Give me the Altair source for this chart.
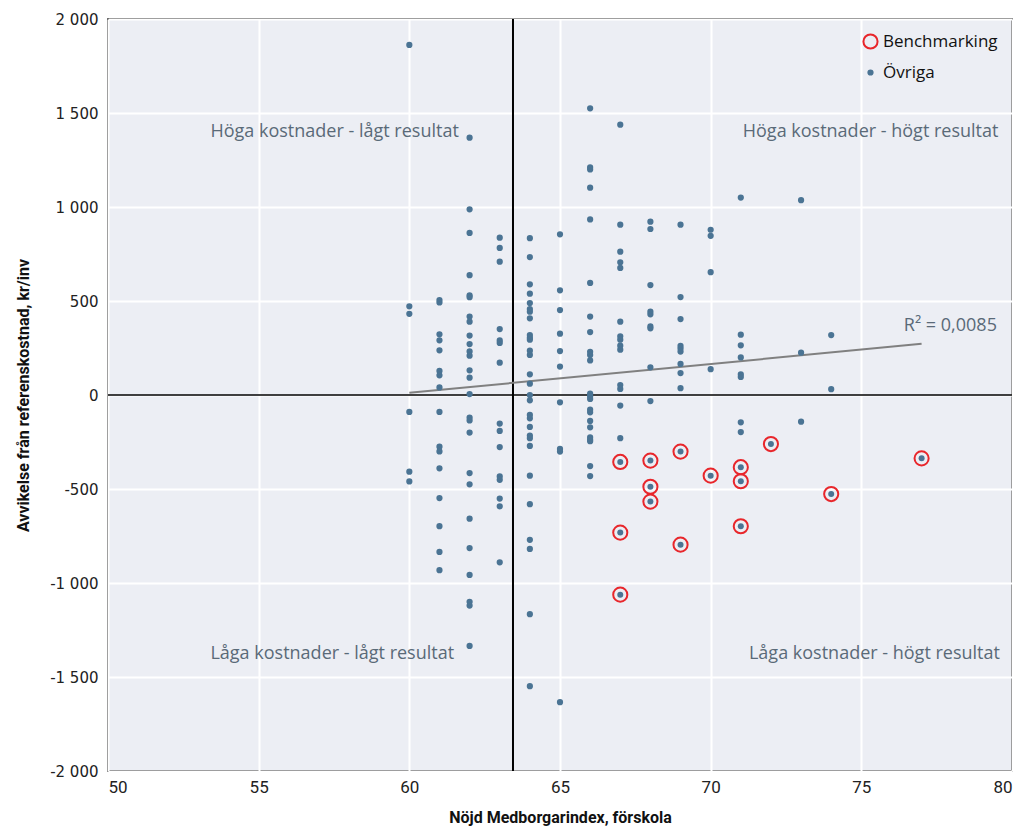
import altair as alt
import pandas as pd

# Övriga: y-values per x (Nöjd Medborgarindex)
col_60 = [1862, 472, 432, -90, -408, -460]
col_61 = [505, 492, 323, 291, 238, 128, 105, 40, -90, -275, -300, -390, -548, -698, -835, -932]
col_62 = [1369, 988, 862, 637, 530, 520, 417, 390, 316, 271, 232, 209, 131, 92, 5, -120, -135,
          -200, -415, -475, -658, -814, -957, -1100, -1120, -1335]
col_63 = [837, 782, 709, 351, 290, 277, 172, -152, -191, -277, -433, -451, -551, -592, -890]
col_64 = [834, 734, 589, 539, 489, 457, 443, 408, 319, 305, 294, 236, 213, 110, 60, 0, -28,
          -106, -124, -170, -216, -230, -271, -429, -581, -770, -819, -1166, -1549]
col_65 = [855, 557, 452, 326, 234, 151, -39, -287, -301, -1634]
col_66 = [1525, 1211, 1200, 1103, 934, 596, 417, 335, 230, 213, 184, 7, -7, -21, -78, -92,
          -138, -172, -225, -238, -246, -378, -431]
col_67 = [1438, 906, 762, 706, 676, 390, 312, 294, 262, 241, 53, 32, -56, -230]
col_68 = [922, 883, 585, 443, 429, 365, 355, 147, -32]
col_69 = [906, 521, 404, 261, 247, 231, 165, 117, 36]
col_70 = [879, 847, 653, 137]
col_71 = [1050, 321, 264, 200, 110, 96, -145, -197]
col_73 = [1036, 225, -142]
col_74 = [319, 31]

# Benchmarking
bench_x = [67, 67, 67, 68, 68, 68, 69, 69, 70, 71, 71, 71, 72, 74, 77]
bench_y = [-356, -732, -1062, -349, -488, -567, -301, -796, -429, -384, -459, -698, -261, -527, -337]

# Trend line (R² = 0,0085)
trend_x = [60, 77]
trend_y = [12, 272]

# Divider lines
divider_x = [63.44]
divider_y = [0]

# Annotations
quad_text = ["Höga kostnader - lågt resultat", "Höga kostnader - högt resultat",
             "Låga kostnader - lågt resultat", "Låga kostnader - högt resultat"]
quad_x = [53.4, 79.55, 53.4, 79.6]
quad_y = [1400, 1400, -1375, -1375]
r2_text = ["R² = 0,0085"]
r2_x = [79.5]
r2_y = [365]

BLUE = "#4b7494"
RED = "#e8262b"
FONT = "Roboto"
TFONT = "Open Sans"

cols = {60: col_60, 61: col_61, 62: col_62, 63: col_63, 64: col_64, 65: col_65, 66: col_66,
        67: col_67, 68: col_68, 69: col_69, 70: col_70, 71: col_71, 73: col_73, 74: col_74}
rows = []
for xv, ys in cols.items():
    for yv in ys:
        rows.append({"x": xv, "y": yv, "group": "Övriga"})
for xv, yv in zip(bench_x, bench_y):
    rows.append({"x": xv, "y": yv, "group": "Benchmarking"})
pts = pd.DataFrame(rows)
bench = pd.DataFrame({"x": bench_x, "y": bench_y})

xscale = alt.Scale(domain=[50, 80], nice=False, zero=False)
yscale = alt.Scale(domain=[-2000, 2000], nice=False)

xaxis = alt.Axis(title="Nöjd Medborgarindex, förskola", values=list(range(50, 81, 5)),
                 ticks=False, domain=False, grid=True, gridColor="white", gridWidth=2,
                 labelFont=FONT, labelFontSize=17, labelColor="#222", labelPadding=8,
                 titleFont=FONT, titleFontSize=16, titleFontWeight="bold", titleColor="#111",
                 titlePadding=14)
yaxis = alt.Axis(title="Avvikelse från referenskostnad, kr/inv", values=list(range(-2000, 2001, 500)),
                 ticks=False, domain=False, grid=True, gridColor="white", gridWidth=2,
                 labelExpr="(datum.value < 0 ? '-' : '') + replace(format(abs(datum.value), ','), ',', ' ')",
                 labelFont="DejaVu Sans", labelFontSize=15, labelColor="#222", labelPadding=10,
                 titleFont=FONT, titleFontSize=16, titleFontWeight="bold", titleColor="#111",
                 titlePadding=18)

base_grid = alt.Chart(pd.DataFrame({"x": [50], "y": [0]})).mark_point(opacity=0).encode(
    x=alt.X("x:Q", scale=xscale, axis=xaxis),
    y=alt.Y("y:Q", scale=yscale, axis=yaxis),
)

vline = alt.Chart(pd.DataFrame({"x": divider_x})).mark_rule(color="black", strokeWidth=2).encode(
    x=alt.X("x:Q", scale=xscale))
hline = alt.Chart(pd.DataFrame({"y": divider_y})).mark_rule(color="black", strokeWidth=1.5).encode(
    y=alt.Y("y:Q", scale=yscale))

trend = alt.Chart(pd.DataFrame({"x": trend_x, "y": trend_y})).mark_line(color="#808080", strokeWidth=2).encode(
    x=alt.X("x:Q", scale=xscale), y=alt.Y("y:Q", scale=yscale))

leg = alt.Legend(title=None, orient="top-right", offset=10,
                 labelFont=TFONT, labelFontSize=17, labelColor="#111",
                 symbolStrokeWidth=2, rowPadding=10, padding=4)
dom = ["Benchmarking", "Övriga"]
points = alt.Chart(pts).mark_point(strokeWidth=2, opacity=1, filled=False).encode(
    x=alt.X("x:Q", scale=xscale),
    y=alt.Y("y:Q", scale=yscale),
    color=alt.Color("group:N", scale=alt.Scale(domain=dom, range=[RED, BLUE]), legend=leg),
    fill=alt.Fill("group:N", scale=alt.Scale(domain=dom, range=["transparent", BLUE]), legend=leg),
    size=alt.Size("group:N", scale=alt.Scale(domain=dom, range=[200, 18]), legend=leg),
)

bench_dots = alt.Chart(bench).mark_circle(color=BLUE, size=36, opacity=1).encode(
    x=alt.X("x:Q", scale=xscale), y=alt.Y("y:Q", scale=yscale))

quad_left = alt.Chart(pd.DataFrame({"t": quad_text[0::2], "x": quad_x[0::2], "y": quad_y[0::2]})).mark_text(
    font=TFONT, fontSize=18, color="#5a6a78", baseline="middle", align="left").encode(
    x=alt.X("x:Q", scale=xscale), y=alt.Y("y:Q", scale=yscale), text="t:N")
quad_right = alt.Chart(pd.DataFrame({"t": quad_text[1::2], "x": quad_x[1::2], "y": quad_y[1::2]})).mark_text(
    font=TFONT, fontSize=18, color="#5a6a78", baseline="middle", align="right").encode(
    x=alt.X("x:Q", scale=xscale), y=alt.Y("y:Q", scale=yscale), text="t:N")
r2 = alt.Chart(pd.DataFrame({"t": r2_text, "x": r2_x, "y": r2_y})).mark_text(
    font=TFONT, fontSize=18, color="#5a6a78", baseline="middle", align="right").encode(
    x=alt.X("x:Q", scale=xscale), y=alt.Y("y:Q", scale=yscale), text="t:N")

chart = alt.layer(base_grid, vline, hline, trend, quad_left, quad_right, r2, bench_dots, points).properties(
    width=904, height=752, padding={"left": 7, "top": 4, "right": 5, "bottom": 5}, background="white"
).configure_view(fill="#eceef4", stroke="black", strokeWidth=1.5)

chart.save("out.html", embed_options={"renderer": "svg", "actions": False})
